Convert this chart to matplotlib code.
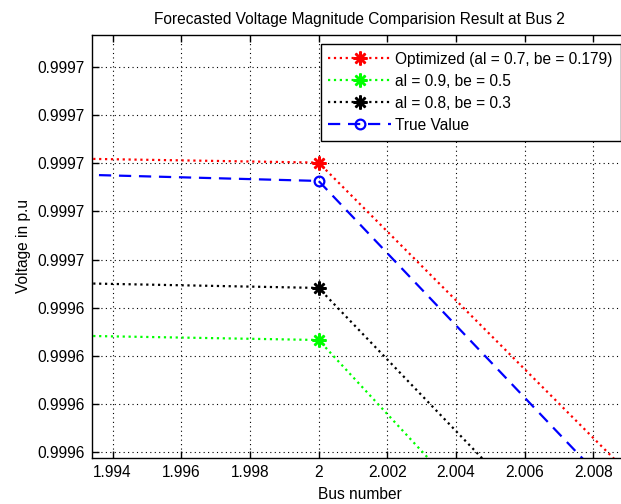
import numpy as np
import matplotlib
matplotlib.use('Agg')
import matplotlib.pyplot as plt

# Dane: napięcia w węzłach 1..3
bus = [1, 2, 3]
v_opt = [0.999797, 0.9996801, 0.99254]
v_a09 = [0.999769, 0.9996433, 0.991963]
v_a08 = [0.9997926, 0.9996541, 0.992234]
v_true = [0.999865, 0.9996763, 0.992186]

labels = ['Optimized (al = 0.7, be = 0.179)', 'al = 0.9, be = 0.5',
          'al = 0.8, be = 0.3', 'True Value']

x_ticks = [1.994, 1.996, 1.998, 2.0, 2.002, 2.004, 2.006, 2.008]
x_tick_labels = ['1.994', '1.996', '1.998', '2', '2.002', '2.004', '2.006', '2.008']
y_ticks = [0.99970, 0.99969, 0.99968, 0.99967, 0.99966, 0.99965, 0.99964, 0.99963, 0.99962]
y_tick_labels = ['0.9997'] * 5 + ['0.9996'] * 4

plt.rcParams['font.family'] = ['Liberation Sans', 'DejaVu Sans']
fs = 11.2

fig = plt.figure(figsize=(6.21, 5.04), dpi=100)
W, H = 621, 504
ax = fig.add_axes([92 / W, 46.3 / H, (627.6 - 92) / W, 423 / H])

star = (8, 2, 0)
ax.plot(bus, v_opt, color='red', ls=':', lw=1.6, marker=star, ms=10, mew=1.8, label=labels[0])
ax.plot(bus, v_a09, color='#00ff00', ls=':', lw=1.6, marker=star, ms=10, mew=1.8, label=labels[1])
ax.plot(bus, v_a08, color='black', ls=':', lw=1.6, marker=star, ms=10, mew=1.8, label=labels[2])
ax.plot(bus, v_true, color='blue', ls=(0, (5.5, 3.5)), lw=1.6, marker='o', ms=7, mew=1.6,
        mfc='none', label=labels[3])

ax.set_xlim(1.99340, 2.0090)
ax.set_ylim(0.99961888, 0.999706639)
ax.set_xticks(x_ticks)
ax.set_xticklabels(x_tick_labels, fontsize=fs)
ax.set_yticks(y_ticks)
ax.set_yticklabels(y_tick_labels, fontsize=fs)
ax.tick_params(direction='in', length=5, width=1, top=True, right=True, pad=5)

ax.grid(True, color='black', ls=(0, (1, 3)), lw=0.8)
for s in ax.spines.values():
    s.set_linewidth(1.0)

ax.set_title('Forecasted Voltage Magnitude Comparision Result at Bus 2', fontsize=fs, pad=8)
ax.set_xlabel('Bus number', fontsize=fs, labelpad=5)
ax.set_ylabel('Voltage in p.u', fontsize=fs, labelpad=5)

leg = ax.legend(loc='upper right', bbox_to_anchor=(620.5 / W, 1 - 44 / H),
                bbox_transform=fig.transFigure, borderaxespad=0, fancybox=False,
                edgecolor='black', framealpha=1, fontsize=fs, handlelength=4.0,
                handletextpad=0.3, labelspacing=0.45, borderpad=0.5)
leg.get_frame().set_linewidth(1.0)

fig.savefig('out.png', dpi=100)
